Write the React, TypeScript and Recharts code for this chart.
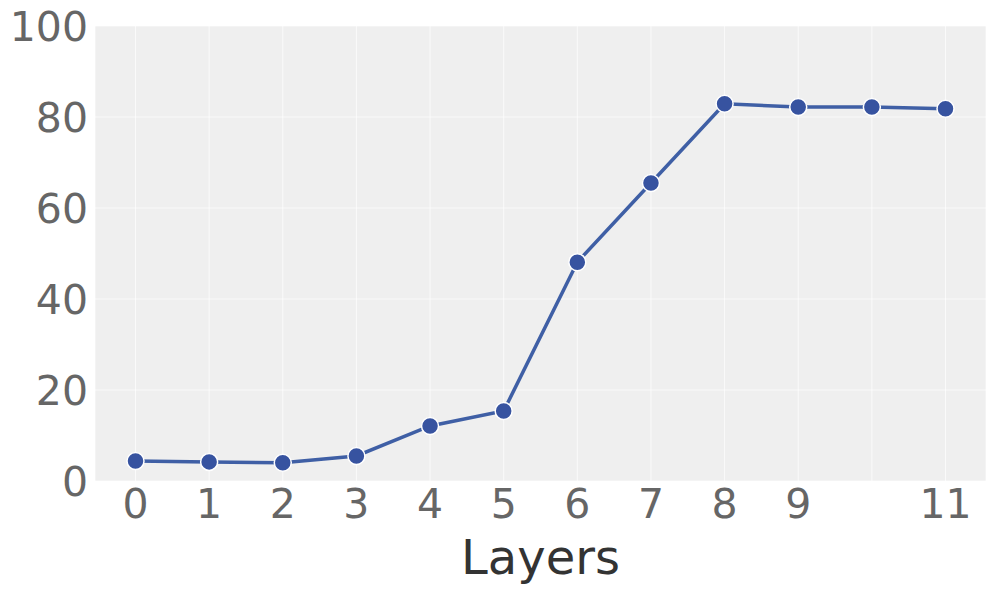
import { LineChart, Line, XAxis, YAxis, CartesianGrid } from "recharts"

const layers = [0, 1, 2, 3, 4, 5, 6, 7, 8, 9, 10, 11]
const scores = [4.4, 4.2, 4.0, 5.5, 12.1, 15.4, 48.1, 65.5, 82.9, 82.2, 82.2, 81.8]
const xTicks = [0, 1, 2, 3, 4, 5, 6, 7, 8, 9, 10, 11]
const xTickLabels = ["0", "1", "2", "3", "4", "5", "6", "7", "8", "9", "", "11"]
const yTicks = [0, 20, 40, 60, 80, 100]

const data = layers.map((layer, i) => ({ layer, score: scores[i] }))

const FONT = "'DejaVu Sans', sans-serif"

export default function App() {
  return (
    <div style={{ position: "absolute", left: 0, top: 0 }}>
      <LineChart width={996} height={590} data={data} margin={{ top: 26, right: 10, left: 0, bottom: 0 }}>
        <CartesianGrid stroke="#ffffff" strokeOpacity={0.7} fill="#efefef" />
        <XAxis
          dataKey="layer"
          type="number"
          domain={[-0.55, 11.55]}
          allowDataOverflow
          ticks={xTicks}
          interval={0}
          tickFormatter={(v: number) => xTickLabels[xTicks.indexOf(v)] ?? ""}
          tick={{ fontSize: 41, fill: "#666666", fontFamily: FONT }}
          tickLine={false}
          axisLine={false}
          tickSize={0}
          tickMargin={8}
          height={109}
          label={{ value: "Layers", position: "insideBottom", offset: 16, fontSize: 48, fill: "#333333", fontFamily: FONT }}
        />
        <YAxis
          type="number"
          domain={[0, 100]}
          ticks={yTicks}
          interval={0}
          tick={{ fontSize: 41, fill: "#666666", fontFamily: FONT }}
          tickLine={false}
          axisLine={false}
          tickSize={0}
          tickMargin={7}
          width={95}
        />
        <Line
          type="linear"
          dataKey="score"
          stroke="#3f5fa5"
          strokeWidth={3.5}
          dot={{ r: 8.5, fill: "#3753a0", stroke: "#ffffff", strokeWidth: 1.5, fillOpacity: 1 }}
          isAnimationActive={false}
        />
      </LineChart>
    </div>
  )
}
